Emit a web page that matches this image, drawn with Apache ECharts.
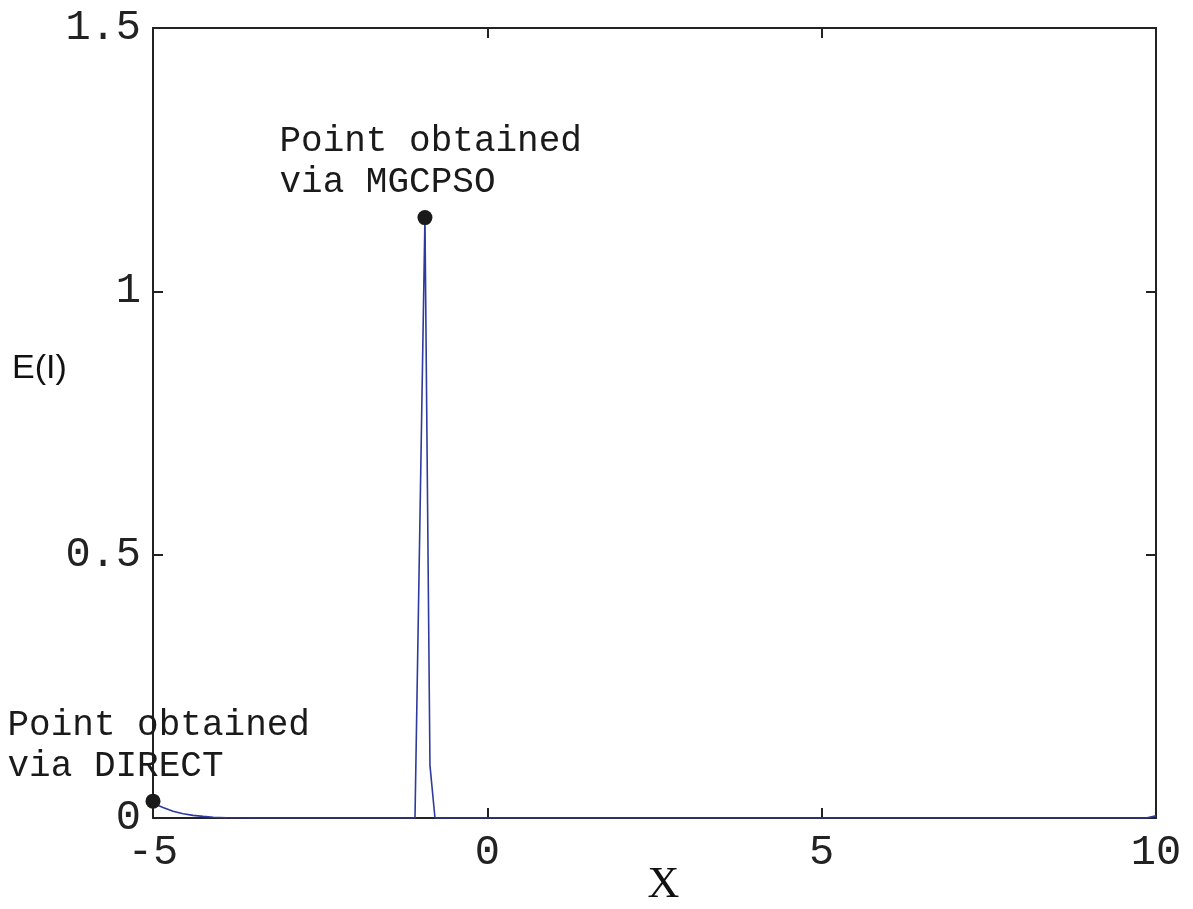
<!DOCTYPE html>
<html>
<head>
<meta charset="utf-8">
<script src="https://cdn.jsdelivr.net/npm/echarts@6/dist/echarts.min.js"></script>
<style>html,body{margin:0;padding:0;background:#fff;}#c{width:1193px;height:909px;}</style>
</head>
<body>
<div id="c"></div>
<script>
// Curve E(I) vs X
const curveX = [-5, -4.85, -4.7, -4.55, -4.4, -4.25, -4.1, -3.9, -3.5, -2, -1.082, -0.933, -0.858, -0.783, 2, 5, 8, 9.85, 10];
const curveY = [0.028, 0.02, 0.013, 0.008, 0.005, 0.003, 0.0015, 0.0005, 0, 0, 0, 1.14, 0.10, 0, 0, 0, 0, 0, 0.004];
// Highlighted points
const pointNames = ['Point obtained\nvia DIRECT', 'Point obtained\nvia MGCPSO'];
const pointX = [-5, -0.933];
const pointY = [0.032, 1.14];
const xTicks = [-5, 0, 5, 10];
const yTicks = [0, 0.5, 1, 1.5];

const chart = echarts.init(document.getElementById('c'));
const axisCol = '#222';
const monoFont = '"Liberation Mono", "DejaVu Sans Mono", monospace';
const baseAxis = {
  type: 'value',
  axisLine: {show: true, onZero: false, lineStyle: {color: axisCol, width: 2}},
  axisTick: {show: true, inside: true, length: 10, lineStyle: {color: axisCol, width: 2}},
  splitLine: {show: false}
};
chart.setOption({
  animation: false,
  backgroundColor: '#fff',
  grid: {left: 153, right: 37, top: 28, bottom: 91, containLabel: false, outerBoundsMode: 'none'},
  xAxis: [
    Object.assign({}, baseAxis, {
      position: 'bottom', min: xTicks[0], max: xTicks[xTicks.length-1], interval: 5,
      axisLabel: {color: '#222', fontFamily: monoFont, fontSize: 42, margin: 14},
      name: 'X', nameLocation: 'middle', nameGap: 45, nameMoveOverlap: false,
      nameTextStyle: {fontFamily: '"Liberation Serif", serif', fontSize: 44, color: '#111', padding: [0,0,0,18]}
    }),
    Object.assign({}, baseAxis, {
      position: 'top', min: xTicks[0], max: xTicks[xTicks.length-1], interval: 5,
      axisLabel: {show: false}
    })
  ],
  yAxis: [
    Object.assign({}, baseAxis, {
      position: 'left', min: yTicks[0], max: yTicks[yTicks.length-1], interval: 0.5,
      axisLabel: {color: '#222', fontFamily: monoFont, fontSize: 42, margin: 12}
    }),
    Object.assign({}, baseAxis, {
      position: 'right', min: yTicks[0], max: yTicks[yTicks.length-1], interval: 0.5,
      axisLabel: {show: false}
    })
  ],
  graphic: [{
    type: 'text', left: 12, top: 352,
    style: {text: 'E(I)', font: '34px "Liberation Sans", Arial, sans-serif', fill: '#111'}
  }],
  series: [
    {
      type: 'line',
      data: curveX.map((x, i) => [x, curveY[i]]),
      showSymbol: false,
      symbol: 'none',
      lineStyle: {color: '#2e3a9e', width: 1.6},
      z: 3
    },
    {
      type: 'scatter',
      data: pointX.map((x, i) => ({name: pointNames[i], value: [x, pointY[i]]})),
      symbol: 'circle',
      symbolSize: 15,
      itemStyle: {color: '#1a1a1a', opacity: 1},
      label: {
        show: true,
        formatter: p => p.name,
        position: [-138, -89],
        align: 'left', verticalAlign: 'top',
        fontFamily: monoFont, fontSize: 36, lineHeight: 41, color: '#1a1a1a', opacity: 1
      },
      z: 4
    }
  ]
});
</script>
</body>
</html>
